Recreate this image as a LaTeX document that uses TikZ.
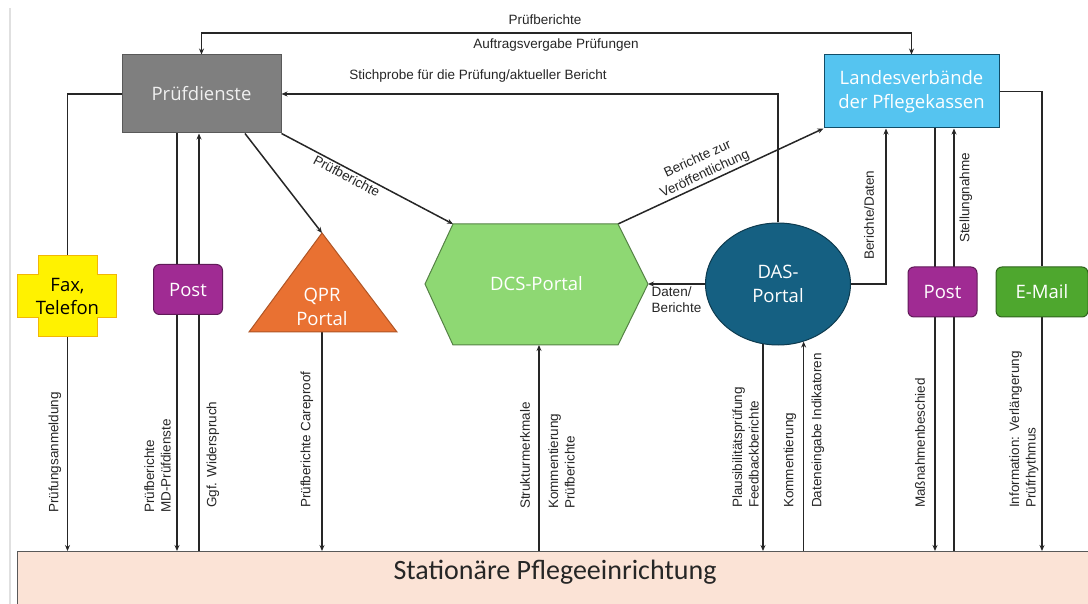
\documentclass[tikz,border=0pt]{standalone}
\usepackage{fontspec}
\setmainfont{Liberation Sans}
\newfontfamily\boxfont{Open Sans}
\newfontfamily\statfont{Carlito}
\usepackage{tikz}
\usetikzlibrary{arrows.meta,shapes.geometric,backgrounds}
\definecolor{pruefgray}{HTML}{7F7F7F}
\definecolor{landesblue}{HTML}{55C4F0}
\definecolor{faxline}{HTML}{F2B705}
\definecolor{postpurple}{HTML}{A02B93}
\definecolor{qprorange}{HTML}{E97132}
\definecolor{dcsgreen}{HTML}{8ED873}
\definecolor{dasblue}{HTML}{156082}
\definecolor{mailgreen}{HTML}{4EA72E}
\definecolor{statpeach}{HTML}{FBE3D6}
\tikzset{
	conn/.style={line width=1.5pt, draw=black!85},
	arr/.style={conn, -{Stealth[length=6pt,width=5pt]}},
	lbl/.style={font=\fontsize{13.5}{16.5}\selectfont, text=black!85, inner sep=1.5pt},
	vtext/.style={lbl, rotate=90, anchor=west, align=left, inner sep=0pt},
	boxtext/.style={font=\boxfont\fontsize{18.5}{23.5}\selectfont, text=white, align=center, line width=1pt},
	postbox/.style={boxtext, rounded corners=6pt, fill=postpurple, draw=postpurple!60!black, minimum width=69, minimum height=50},
}
\def\sidelabel(#1)(#2,#3)#4{\node[vtext] (#1) at (#2,#3) {#4};}

\begin{document}
\begin{tikzpicture}[x=1pt,y=-1pt]
	%%%%% START %%%%%
	\useasboundingbox (0,0) rectangle (1088,604);
	\draw[line width=1.5pt, color=black!12] (10,8) -- (10,604);

	\node[boxtext, fill=pruefgray, draw=black!65, minimum width=159, minimum height=78, text=black!6] (pruef) at (201.5,94) {Prüfdienste};
	\node[boxtext, fill=landesblue, draw=dasblue!80!black, minimum width=175, minimum height=73] (landes) at (911.5,91.5) {Landesverbände\\der Pflegekassen};

	\draw[fill=yellow, draw=faxline, line width=1pt] (17,275) -- (38,275) -- (38,256) -- (97,256) -- (97,275) -- (116,275) -- (116,318) -- (97,318) -- (97,337) -- (38,337) -- (38,318) -- (17,318) -- cycle;
	\node[boxtext, text=black, minimum width=59, minimum height=81] (fax) at (67.5,296.5) {Fax,\\Telefon};

	\node[postbox] (postL) at (188,289.5) {Post};

	\coordinate (qprtop) at (322,233);
	\coordinate (qprbase) at (322,332);
	\draw[fill=qprorange, draw=qprorange!75!black, line width=1pt] (qprtop) -- (397,332) -- (249,332) -- cycle;
	\node[boxtext] (qpr) at (322,307) {QPR\\Portal};

	\coordinate (dcsnw) at (453,224);
	\coordinate (dcsne) at (618,224);
	\coordinate (dcse) at (648,284);
	\coordinate (dcsse) at (618,345);
	\coordinate (dcssw) at (453,345);
	\coordinate (dcsw) at (425,284);
	\coordinate (dcss) at (539,345);
	\draw[fill=dcsgreen, draw=dcsgreen!60!black, line width=1pt] (dcsnw) -- (dcsne) -- (dcse) -- (dcsse) -- (dcssw) -- (dcsw) -- cycle;
	\node[boxtext] (dcs) at (536.5,284) {DCS-Portal};

	\node[boxtext, ellipse, fill=dasblue, draw=dasblue!60!black, minimum width=145, minimum height=122, inner sep=0pt] (das) at (778,284) {DAS-\\Portal};

	\node[postbox] (postR) at (942.5,292) {Post};
	\node[boxtext, rounded corners=6pt, fill=mailgreen, draw=mailgreen!60!black, minimum width=92, minimum height=50] (email) at (1042,292) {E-Mail};

	\node[draw=black!65, fill=statpeach, line width=1pt, minimum width=1090, minimum height=64, anchor=north west] (stat) at (17,551) {};
	\node[font=\statfont\fontsize{28}{32}\selectfont, text=black!85] (stattext) at (555,572) {Stationäre Pflegeeinrichtung};

	\coordinate (mdline) at (177,0);
	\coordinate (wsline) at (199,0);
	\coordinate (pqline) at (245,0);
	\coordinate (bdline) at (886,0);
	\coordinate (mbline) at (935,0);
	\coordinate (stline) at (954,0);

	\begin{pgfonlayer}{background}
		\draw[conn, {Stealth[length=6pt,width=5pt]}-{Stealth[length=6pt,width=5pt]}] (pruef.north) |- (560,33) -| (landes.north);
		\draw[arr] (das.north) |- (pruef.east);
		\draw[conn] (pruef.west) -| (fax.north);
		\draw[arr] (fax.south) -- (fax.south |- stat.north);
		\draw[arr] (mdline |- pruef.south) -- (mdline |- stat.north);
		\draw[arr] (wsline |- stat.north) -- (wsline |- pruef.south);
		\draw[arr] (pqline |- pruef.south) -- (qprtop);
		\draw[arr] (qprbase) -- (qprbase |- stat.north);
		\draw[arr] (pruef.south east) -- node[lbl, sloped, below, pos=0.4] (lblpd) {Prüfberichte} (dcsnw);
		\draw[arr] (dcsne) -- node[lbl, sloped, above, pos=0.44, align=center] (lblvo) {Berichte zur\\Veröffentlichung} (landes.south west);
		\draw[arr] (das.west) -- node[lbl, below, align=left] (lbldb) {Daten/\\Berichte} (dcse);
		\draw[arr] (dcss |- stat.north) -- (dcss);
		\draw[arr] (das.-104) -- (das.-104 |- stat.north);
		\draw[arr] (das.-66 |- stat.north) -- (das.-66);
		\draw[arr] (das.east) -| (bdline |- landes.south);
		\draw[arr] (mbline |- landes.south) -- (mbline |- stat.north);
		\draw[arr] (stline |- stat.north) -- (stline |- landes.south);
		\draw[conn] (landes.east) -| (email.north);
		\draw[arr] (email.south) -- (email.south |- stat.north);
	\end{pgfonlayer}

	\node[lbl] (lblpb) at (545,20) {Prüfberichte};
	\node[lbl] (lblav) at (556,45) {Auftragsvergabe Prüfungen};
	\node[lbl] (lblsp) at (478,76) {Stichprobe für die Prüfung/aktueller Bericht};

	\sidelabel(lblanm)(55,513){Prüfungsanmeldung}
	\sidelabel(lblmd)(157.5,513){Prüfberichte\\MD-Prüfdienste}
	\sidelabel(lblws)(213,508){Ggf. Widerspruch}
	\sidelabel(lblcp)(307,508){Prüfberichte Careproof}
	\sidelabel(lblsm)(525,509){Strukturmerkmale}
	\sidelabel(lblkp)(561.5,509){Kommentierung\\Prüfberichte}
	\sidelabel(lblpf)(745.5,508){Plausibilitätsprüfung\\Feedbackberichte}
	\sidelabel(lblko)(790,508){Kommentierung}
	\sidelabel(lbldi)(818,508){Dateneingabe Indikatoren}
	\sidelabel(lblbd)(869,260){Berichte/Daten}
	\sidelabel(lblsn)(966,243){Stellungnahme}
	\sidelabel(lblmb)(920,508){Maßnahmenbeschied}
	\sidelabel(lblinf)(1024,508){Information: Verlängerung\\Prüfrhythmus}
	%%%%% END %%%%%
\end{tikzpicture}
\end{document}
